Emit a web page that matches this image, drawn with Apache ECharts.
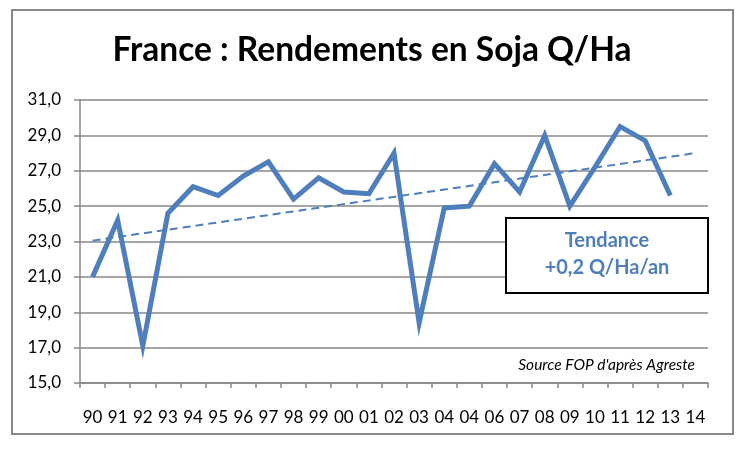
<!DOCTYPE html>
<html>
<head>
<meta charset="utf-8">
<script src="https://cdn.jsdelivr.net/npm/echarts@6/dist/echarts.min.js"></script>
<style>
html,body{margin:0;padding:0;background:#fff;}
#c{width:749px;height:451px;}
</style>
</head>
<body>
<div id="c"></div>
<script>
// Tick labels (as printed in the original, including the repeated "04")
var xLabels = ['90','91','92','93','94','95','96','97','98','99','00','01','02','03','04','04','06','07','08','09','10','11','12','13','14'];
// Soybean yields, Q/Ha (1990 .. 2013)
var yields = [21.0, 24.2, 17.1, 24.6, 26.1, 25.6, 26.7, 27.5, 25.4, 26.6, 25.8, 25.7, 28.0, 18.4, 24.9, 25.0, 27.4, 25.8, 29.0, 25.0, 27.2, 29.5, 28.7, 25.6];
// Trend line end points (first and last category)
var trendStart = 23.05;
var trendEnd = 28.0;
var yTicks = {min: 15, max: 31, interval: 2};
var titleText = 'France : Rendements en Soja Q/Ha';
var boxLines = ['Tendance', '+0,2 Q/Ha/an'];
var sourceText = "Source FOP d'après Agreste";

var trendData = xLabels.map(function (_, i) {
  if (i === 0) return trendStart;
  if (i === xLabels.length - 1) return trendEnd;
  return null;
});

var BLUE = '#4F7EBD';
var FONT = 'Lato';

var chart = echarts.init(document.getElementById('c'), null, {renderer: 'canvas'});
chart.setOption({
  animation: false,
  backgroundColor: '#fff',
  grid: {left: 80, right: 41, top: 100, bottom: 68, containLabel: false},
  xAxis: {
    type: 'category',
    data: xLabels,
    boundaryGap: true,
    axisLine: {lineStyle: {color: '#888', width: 1.5}},
    axisTick: {show: true, length: 5, alignWithLabel: false, lineStyle: {color: '#888', width: 1.5}},
    axisLabel: {color: '#000', fontFamily: FONT, fontSize: 17, margin: 26, interval: 0},
    splitLine: {show: false}
  },
  yAxis: {
    type: 'value',
    min: yTicks.min, max: yTicks.max, interval: yTicks.interval,
    axisLine: {show: true, lineStyle: {color: '#888', width: 1.5}},
    axisTick: {show: true, length: 6, lineStyle: {color: '#888', width: 1.5}},
    axisLabel: {color: '#000', fontFamily: FONT, fontSize: 17, margin: 19,
      formatter: function (v) { return v.toFixed(1).replace('.', ','); }},
    splitLine: {show: true, lineStyle: {color: '#888', width: 1.5}}
  },
  series: [
    {
      type: 'line',
      data: trendData,
      connectNulls: true,
      symbol: 'none',
      lineStyle: {color: BLUE, width: 2, type: [8, 5]},
      z: 2
    },
    {
      type: 'line',
      data: yields,
      symbol: 'none',
      lineStyle: {color: BLUE, width: 5, join: 'miter'},
      z: 3
    }
  ],
  graphic: [
    {
      type: 'rect', z: 0, silent: true,
      shape: {x: 12, y: 10, width: 721, height: 424},
      style: {fill: 'none', stroke: '#888', lineWidth: 2}
    },
    {
      type: 'text', z: 10,
      x: 372, y: 50,
      style: {text: titleText, fontFamily: FONT, fontWeight: 'bold', fontSize: 33.5,
        fill: '#000', align: 'center', verticalAlign: 'middle'}
    },
    {
      type: 'rect', z: 10,
      shape: {x: 506, y: 218, width: 202, height: 75},
      style: {fill: '#fff', stroke: '#000', lineWidth: 2}
    },
    {
      type: 'text', z: 11,
      x: 607, y: 241,
      style: {text: boxLines[0], fontFamily: FONT, fontWeight: 'bold', fontSize: 20,
        fill: BLUE, align: 'center', verticalAlign: 'middle'}
    },
    {
      type: 'text', z: 11,
      x: 607, y: 268,
      style: {text: boxLines[1], fontFamily: FONT, fontWeight: 'bold', fontSize: 20,
        fill: BLUE, align: 'center', verticalAlign: 'middle'}
    },
    {
      type: 'text', z: 11,
      x: 695, y: 365,
      style: {text: sourceText, fontFamily: FONT, fontStyle: 'italic', fontSize: 15.5,
        fill: '#000', align: 'right', verticalAlign: 'middle'}
    }
  ]
});
</script>
</body>
</html>
